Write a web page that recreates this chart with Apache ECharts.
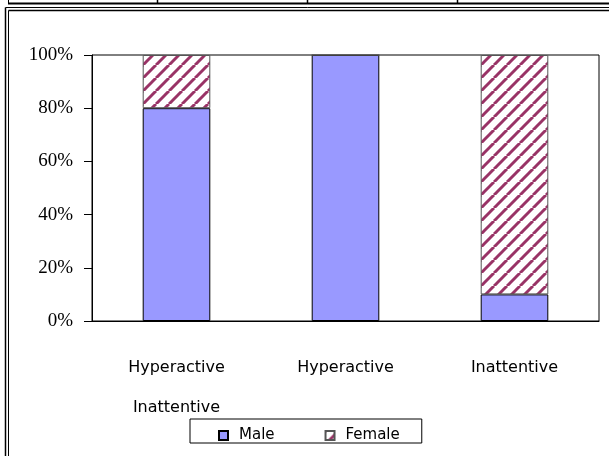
<!DOCTYPE html>
<html>
<head>
<meta charset="utf-8">
<script src="https://cdn.jsdelivr.net/npm/echarts@6/dist/echarts.min.js"></script>
<style>
  html, body { margin: 0; padding: 0; background: #fff; }
  #chart { width: 609px; height: 456px; }
</style>
</head>
<body>
<div id="chart"></div>
<script>
// data
const categories = ['Hyperactive\nInattentive', 'Hyperactive', 'Inattentive']
const maleValues = [80, 100, 10]
const femaleValues = [20, 0, 90]
const yTicks = [0, 20, 40, 60, 80, 100]

// diagonal hatch for the Female series
function hatch() {
  const s = 13
  const c = document.createElement('canvas')
  c.width = s
  c.height = s
  const ctx = c.getContext('2d')
  ctx.fillStyle = '#fff'
  ctx.fillRect(0, 0, s, s)
  ctx.strokeStyle = '#993366'
  ctx.lineWidth = 3
  for (const k of [-s, 0, s]) {
    ctx.beginPath()
    ctx.moveTo(k, s)
    ctx.lineTo(k + s, 0)
    ctx.stroke()
  }
  return c
}

const chart = echarts.init(document.getElementById('chart'))

const frameLines = [
  // table row at the very top
  [[8, 3.5], [609, 3.5], 2],
  [[8.5, 0], [8.5, 4], 1],
  [[157.5, 0], [157.5, 4], 1.5],
  [[307.5, 0], [307.5, 4], 1.5],
  [[457.5, 0], [457.5, 4], 1.5],
  // double frame
  [[5.5, 7.5], [609, 7.5], 1],
  [[5.5, 7.5], [5.5, 456], 1.5],
  [[8.5, 10.5], [609, 10.5], 1.5],
  [[8.5, 10.5], [8.5, 456], 1]
]

chart.setOption({
  backgroundColor: '#fff',
  animation: false,
  graphic: frameLines.map(([a, b, w]) => ({
    type: 'line',
    silent: true,
    shape: { x1: a[0], y1: a[1], x2: b[0], y2: b[1] },
    style: { stroke: '#000', lineWidth: w }
  })),
  grid: {
    left: 92,
    right: 10,
    top: 55,
    bottom: 135,
    show: true,
    borderColor: '#000',
    borderWidth: 1
  },
  legend: {
    left: 190,
    top: 419,
    padding: [9, 22, 0, 28],
    borderColor: '#000',
    borderWidth: 1,
    icon: 'rect',
    itemWidth: 9,
    itemHeight: 9,
    itemGap: 50,
    textStyle: {
      fontFamily: 'DejaVu Sans',
      fontSize: 15,
      color: '#000',
      padding: [0, 0, 0, 6]
    },
    data: ['Male', 'Female']
  },
  xAxis: {
    type: 'category',
    data: categories,
    axisLine: { lineStyle: { color: '#000', width: 1 } },
    axisTick: { length: 8, lineStyle: { color: '#000' } },
    axisLabel: {
      margin: 27,
      fontFamily: 'DejaVu Sans',
      fontSize: 16,
      lineHeight: 40,
      color: '#000',
      interval: 0
    }
  },
  yAxis: {
    type: 'value',
    min: yTicks[0],
    max: yTicks[yTicks.length - 1],
    interval: 20,
    axisLine: { show: true, lineStyle: { color: '#000', width: 1 } },
    axisTick: { show: true, length: 8, lineStyle: { color: '#000' } },
    splitLine: { show: false },
    axisLabel: {
      formatter: '{value}%',
      margin: 19,
      fontFamily: 'Liberation Serif',
      fontSize: 19,
      color: '#000'
    }
  },
  series: [
    {
      name: 'Male',
      type: 'bar',
      stack: 'total',
      barWidth: '40%',
      data: maleValues,
      itemStyle: { color: '#9999ff', borderColor: '#000', borderWidth: 1 }
    },
    {
      name: 'Female',
      type: 'bar',
      stack: 'total',
      barWidth: '40%',
      data: femaleValues,
      itemStyle: {
        color: { image: hatch(), repeat: 'repeat' },
        borderColor: '#555',
        borderWidth: 1
      }
    }
  ]
})
</script>
</body>
</html>
